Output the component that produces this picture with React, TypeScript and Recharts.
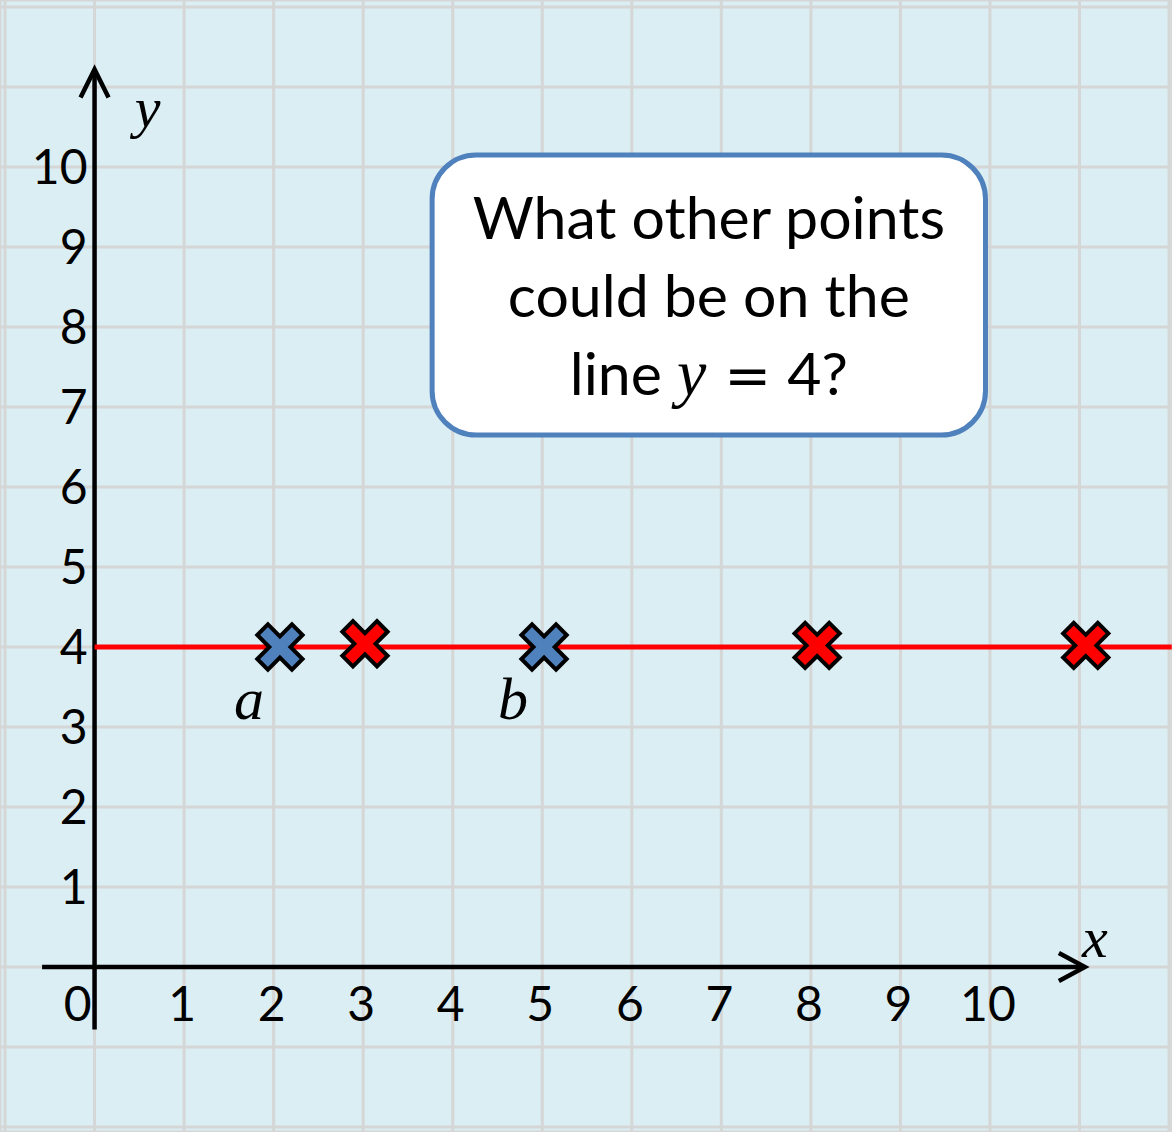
import React from 'react';
import { ScatterChart, Scatter, XAxis, YAxis, ReferenceLine, ReferenceArea, ReferenceDot, CartesianGrid } from 'recharts';

const W = 1172;
const H = 1132;
const BG = '#dbeef4';
const GRID = '#d5d6d6';
const BLUE = '#4f81bd';
const RED = '#ff0000';
const FONT = 'Lato, "Open Sans", sans-serif';
const MATH = '"Liberation Serif", "DejaVu Serif", serif';

// Background grid (data units)
const gridXValues = [-1, 0, 1, 2, 3, 4, 5, 6, 7, 8, 9, 10, 11, 12];
const gridYValues = [-2, -1, 0, 1, 2, 3, 4, 5, 6, 7, 8, 9, 10, 11, 12];

// Tick labels
const xTickValues = [0, 1, 2, 3, 4, 5, 6, 7, 8, 9, 10];
const yTickValues = [1, 2, 3, 4, 5, 6, 7, 8, 9, 10];

// Series
const linePoints = [
  { x: 0, y: 4 },
  { x: 12.03, y: 4 },
];
const bluePoints = [
  { x: 2.07, y: 4, name: 'a' },
  { x: 5.02, y: 4, name: 'b' },
];
const redPoints = [
  { x: 3.02, y: 4.04 },
  { x: 8.07, y: 4.02 },
  { x: 11.07, y: 4.02 },
];

const question = ['What other points', 'could be on the'];

const xTickData = xTickValues.map((v) => ({ x: v, y: 0, label: String(v) }));
const yTickData = yTickValues.map((v) => ({ x: 0, y: v, label: String(v) }));

const crossPoints = (cx: number, cy: number) => {
  const L = 24.5;
  const w = 7.5;
  const plus = [
    [w, -L], [w, -w], [L, -w], [L, w], [w, w], [w, L],
    [-w, L], [-w, w], [-L, w], [-L, -w], [-w, -w], [-w, -L],
  ];
  const s = Math.SQRT1_2;
  return plus
    .map(([px, py]) => `${cx + (px - py) * s},${cy + (px + py) * s}`)
    .join(' ');
};

const RedCross = (p: any) => (
  <polygon points={crossPoints(p.cx, p.cy)} fill={RED} stroke="#000" strokeWidth={4} strokeLinejoin="miter" />
);

const BlueCross = (p: any) => (
  <g>
    <polygon points={crossPoints(p.cx, p.cy)} fill={BLUE} stroke="#000" strokeWidth={4} strokeLinejoin="miter" />
    <text
      x={p.cx - 31}
      y={p.cy + 52}
      textAnchor="middle"
      dominantBaseline="central"
      fontFamily={MATH}
      fontStyle="italic"
      fontSize={60}
      fill="#000"
    >
      {p.payload.name}
    </text>
  </g>
);

const XTickLabel = (p: any) => (
  <text
    x={p.cx + (p.payload.x === 0 ? -17 : -2)}
    y={p.cy + 35}
    textAnchor="middle"
    dominantBaseline="central"
    fontFamily={FONT}
    fontSize={48}
    fill="#000"
  >
    {p.payload.label}
  </text>
);

const YTickLabel = (p: any) => (
  <text
    x={p.cx - 7}
    y={p.cy - 2}
    textAnchor="end"
    dominantBaseline="central"
    fontFamily={FONT}
    fontSize={48}
    fill="#000"
  >
    {p.payload.label}
  </text>
);

const UpArrow = (p: any) => (
  <g>
    <polyline
      points={`${p.cx - 14},${p.cy + 28} ${p.cx},${p.cy} ${p.cx + 14},${p.cy + 28}`}
      fill="none"
      stroke="#000"
      strokeWidth={4.5}
    />
    <text
      x={p.cx + 53}
      y={p.cy + 38}
      textAnchor="middle"
      dominantBaseline="central"
      fontFamily={MATH}
      fontStyle="italic"
      fontSize={58}
      fill="#000"
    >
      y
    </text>
  </g>
);

const RightArrow = (p: any) => (
  <g>
    <polyline
      points={`${p.cx - 26},${p.cy - 14} ${p.cx},${p.cy} ${p.cx - 26},${p.cy + 14}`}
      fill="none"
      stroke="#000"
      strokeWidth={4.5}
    />
    <text
      x={p.cx + 10}
      y={p.cy - 30}
      textAnchor="middle"
      dominantBaseline="central"
      fontFamily={MATH}
      fontStyle="italic"
      fontSize={58}
      fill="#000"
    >
      x
    </text>
  </g>
);

const Callout = (p: any) => {
  const cx = p.x + p.width / 2;
  return (
    <g>
      <rect
        x={p.x}
        y={p.y}
        width={p.width}
        height={p.height}
        rx={44}
        ry={44}
        fill="#ffffff"
        stroke={BLUE}
        strokeWidth={5}
      />
      {question.map((line, i) => (
        <text
          key={line}
          x={cx}
          y={p.y + 84 + i * 78}
          textAnchor="middle"
          fontFamily={FONT}
          fontSize={59}
          fill="#000"
        >
          {line}
        </text>
      ))}
      <text x={cx} y={p.y + 240} textAnchor="middle" fontFamily={FONT} fontSize={59} fill="#000">
        <tspan>line </tspan>
        <tspan fontFamily={MATH} fontStyle="italic" fontSize={66}>y</tspan>
        <tspan dx={18} fontFamily='"DejaVu Sans", sans-serif' fontSize={56}>=</tspan>
        <tspan dx={16}>4?</tspan>
      </text>
    </g>
  );
};

export default function App() {
  return (
    <div style={{ position: 'absolute', left: 0, top: 0, width: W, height: H, background: BG }}>
      <ScatterChart width={W} height={H} margin={{ top: 0, right: 0, bottom: 0, left: 0 }}>
        <CartesianGrid stroke={GRID} strokeWidth={3} />
        <XAxis type="number" dataKey="x" domain={[-1.056, 12.033]} ticks={gridXValues} interval={0} allowDataOverflow hide />
        <YAxis type="number" dataKey="y" domain={[-2.0625, 12.0875]} ticks={gridYValues} interval={0} allowDataOverflow hide />

        <ReferenceLine
          segment={[{ x: 0, y: -0.78 }, { x: 0, y: 11.22 }]}
          stroke="#000"
          strokeWidth={4.5}
          ifOverflow="visible"
        />
        <ReferenceLine
          segment={[{ x: -0.586, y: 0 }, { x: 11.06, y: 0 }]}
          stroke="#000"
          strokeWidth={4.5}
          ifOverflow="visible"
        />
        <ReferenceDot x={0} y={11.22} r={0} shape={UpArrow} ifOverflow="visible" />
        <ReferenceDot x={11.06} y={0} r={0} shape={RightArrow} ifOverflow="visible" />

        <Scatter data={xTickData} shape={XTickLabel} isAnimationActive={false} />
        <Scatter data={yTickData} shape={YTickLabel} isAnimationActive={false} />

        <Scatter
          data={linePoints}
          line={{ stroke: RED, strokeWidth: 5 }}
          shape={() => <g />}
          isAnimationActive={false}
        />
        <Scatter data={bluePoints} shape={BlueCross} isAnimationActive={false} />
        <Scatter data={redPoints} shape={RedCross} isAnimationActive={false} />

        <ReferenceArea
          x1={3.77}
          x2={9.95}
          y1={6.65}
          y2={10.15}
          shape={Callout}
          ifOverflow="visible"
        />
      </ScatterChart>
    </div>
  );
}
